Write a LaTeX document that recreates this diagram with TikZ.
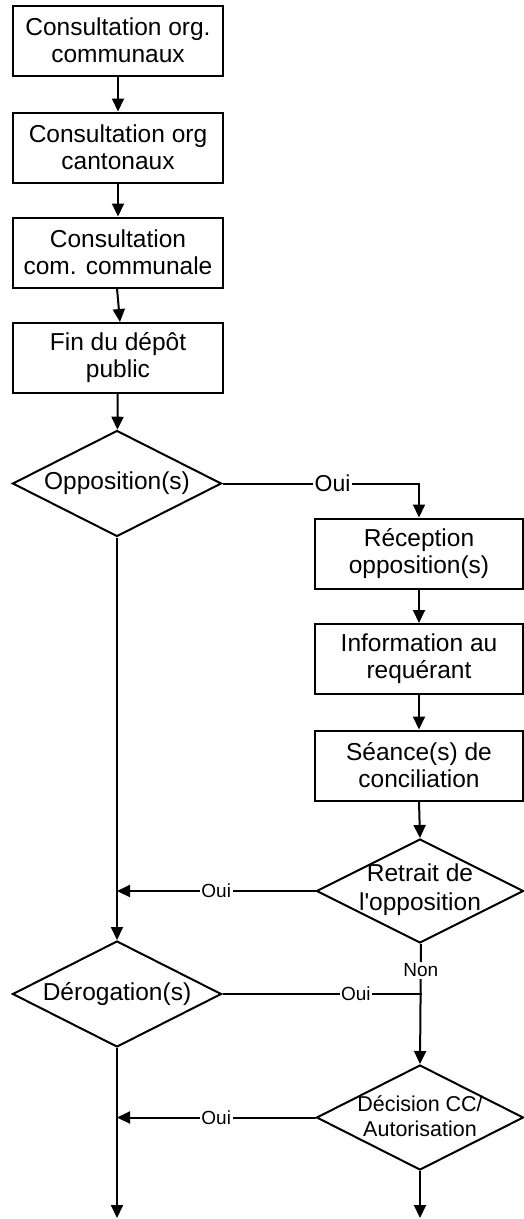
\documentclass[tikz,border=0pt]{standalone}
\usepackage{fontspec}
\setmainfont{Liberation Sans}
\usetikzlibrary{shapes.geometric,arrows.meta}
\begin{document}
\begin{tikzpicture}[x=1pt,y=-1pt,
  line width=2pt,
  box/.style={draw,rectangle,minimum width=210pt,minimum height=70pt,inner sep=0pt,
    align=center,font=\fontsize{24.5}{27}\selectfont},
  dia/.style={draw,diamond,inner sep=0pt,minimum width=209pt,minimum height=106pt},
  dtext/.style={align=center,font=\fontsize{24.5}{29}\selectfont},
  stext/.style={align=center,font=\fontsize{21.5}{25}\selectfont},
  arr/.style={-{Triangle[width=12pt,length=13pt]}},
  lab/.style={fill=white,inner sep=1.5pt,font=\fontsize{19}{19}\selectfont},
  biglab/.style={fill=white,inner sep=1.5pt,font=\fontsize{23}{23}\selectfont}]
\useasboundingbox (0,0) rectangle (524,1219);
% left column
\node[box] (b1) at (118,40.5) {Consultation org.\\communaux};
\node[box] (b2) at (118,147.5) {Consultation org\\cantonaux};
\node[box] (b3) at (118,252.5) {Consultation\\com. communale};
\node[box] (b4) at (118,358) {Fin du dépôt\\public};
\node[dia,label={[dtext]center:Opposition(s)}] (d1) at (117,483.5) {};
\node[dia,label={[dtext]center:Dérogation(s)}] (d3) at (117,994) {};
% right column
\node[box,minimum width=208pt] (r1) at (419,553.5) {Réception\\opposition(s)};
\node[box,minimum width=208pt] (r2) at (419,659) {Information au\\requérant};
\node[box,minimum width=208pt] (r3) at (419,765.5) {Séance(s) de\\conciliation};
\node[dia,minimum width=207pt,minimum height=104pt,
  label={[dtext,yshift=1pt]center:Retrait de\\l\textquotesingle opposition}] (d2) at (420,891) {};
\node[dia,minimum width=207pt,minimum height=105pt,
  label={[stext,yshift=1pt]center:Décision CC/\\Autorisation}] (d4) at (420,1117.5) {};
\coordinate (e1) at (117,1218);
\coordinate (e2) at (420,1218);
% connectors
\draw[arr] (b1) -- (b2);
\draw[arr] (b2) -- (b3);
\draw[arr] ([xshift=-1pt]b3.south) -- ([xshift=2pt]b4.north);
\draw[arr] (b4) -- (d1);
\draw[arr] (d1.east) -| node[biglab,pos=0.28]{Oui} (r1.north);
\draw[arr] (r1) -- (r2);
\draw[arr] (r2) -- (r3);
\draw[arr] (r3.south) -- (d2.north);
\draw[arr] (d2.west) -- node[lab]{Oui} (d1.south |- d2.west);
\draw[arr] (d1.south) -- (d3.north);
\draw[arr] ([xshift=1pt]d2.south) -- node[lab,pos=0.22]{Non} (d4.north);
\draw (d3.east) -- node[lab,pos=0.67]{Oui} ([xshift=1.5pt]d4.north |- d3.east);
\draw[arr] (d4.west) -- node[lab]{Oui} (d1.south |- d4.west);
\draw[arr] (d3.south) -- (e1);
\draw[arr] (d4.south) -- (e2);
\end{tikzpicture}
\end{document}
